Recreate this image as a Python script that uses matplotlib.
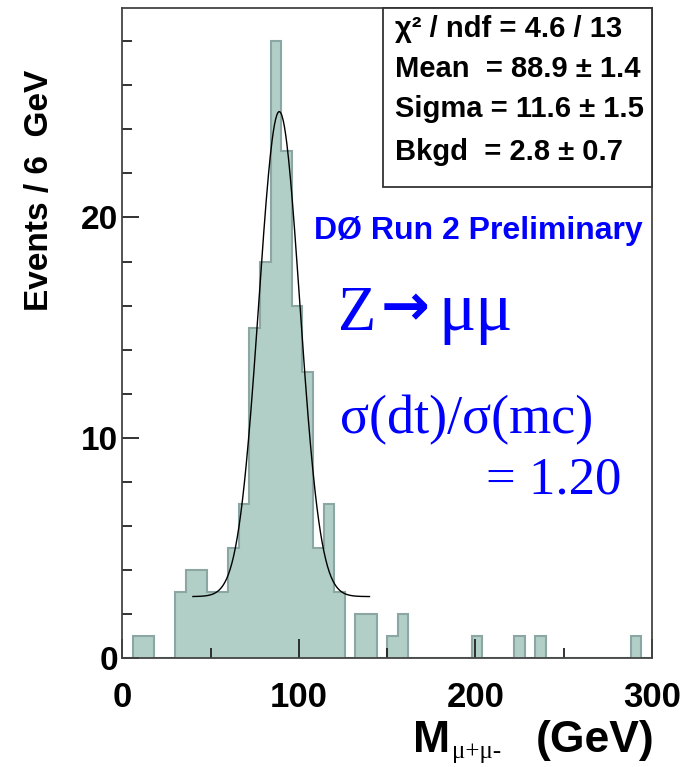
import matplotlib.pyplot as plt
import numpy as np

# histogram: 6 GeV bins from 0 to 300
edges = np.arange(0, 301, 6)
counts = [0, 1, 1, 0, 0, 3, 4, 4, 3, 3,
          5, 7, 15, 18, 28, 23, 16, 13, 5, 7,
          3, 0, 2, 2, 0, 1, 2, 0, 0, 0,
          0, 0, 0, 1, 0, 0, 0, 1, 0, 1,
          0, 0, 0, 0, 0, 0, 0, 0, 1, 0]

# fit parameters (gaussian + flat background)
fit_mean = 88.9
fit_sigma = 11.6
fit_bkgd = 2.8
fit_amp = 22.0
fit_range = (40, 140)

stat_lines = ["χ² / ndf = 4.6 / 13",
              "Mean  = 88.9 ± 1.4",
              "Sigma = 11.6 ± 1.5",
              "Bkgd  = 2.8 ± 0.7"]

W, H = 696, 767
fig = plt.figure(figsize=(W / 100, H / 100), dpi=100)


def fx(x):
    return x / W


def fy(y):
    return 1 - y / H


sans = ['Liberation Sans', 'DejaVu Sans']
serif = ['Liberation Serif', 'DejaVu Serif']

ax = fig.add_axes([fx(122.3), fy(658.3), fx(652) - fx(122.3), fy(8) - fy(658.3)])
ax.stairs(counts, edges, fill=True, facecolor='#b1cec7', edgecolor='#8ba6a3', linewidth=1.5)

xf = np.linspace(fit_range[0], fit_range[1], 300)
yf = fit_bkgd + fit_amp * np.exp(-0.5 * ((xf - fit_mean) / fit_sigma) ** 2)
ax.plot(xf, yf, color='black', lw=1.0)

ax.set_xlim(0, 300)
ax.set_ylim(0, 29.5)
ax.set_xticks([0, 100, 200, 300])
ax.set_xticks([50, 150, 250], minor=True)
ax.set_yticks([0, 10, 20])
ax.set_yticks(np.arange(0, 29, 2), minor=True)
ax.tick_params(which='both', direction='in', color='#222222', width=1.3)
ax.tick_params(axis='x', which='major', length=14, pad=16)
ax.tick_params(axis='x', which='minor', length=7)
ax.tick_params(axis='y', which='major', length=12, pad=3)
ax.tick_params(axis='y', which='minor', length=7)
for lab in ax.get_xticklabels():
    lab.set_family(sans)
    lab.set_fontweight('bold')
    lab.set_fontsize(25)
for lab in ax.get_yticklabels():
    lab.set_family(sans)
    lab.set_fontweight('bold')
    lab.set_fontsize(24)
for s in ax.spines.values():
    s.set_color('#444444')
    s.set_linewidth(1.3)

# stat box
box = plt.Rectangle((fx(383), fy(187)), fx(652) - fx(383), fy(8) - fy(187),
                    transform=fig.transFigure, facecolor='white', edgecolor='#333333',
                    lw=1.3, zorder=5)
fig.patches.append(box)
baselines = [37, 77, 117, 160]
for txt, yb in zip(stat_lines, baselines):
    fig.text(fx(395), fy(yb), txt, family=sans, fontweight='bold', fontsize=21,
             ha='left', va='baseline', zorder=6)

# labels on the plot
fig.text(fx(314), fy(239), "DØ Run 2 Preliminary", family=sans, fontweight='bold',
         fontsize=23, color='blue', va='baseline')
fig.text(fx(338), fy(330), "Z", family=serif, fontsize=45, color='blue', va='baseline')
fig.text(fx(381), fy(309), "→", family=['DejaVu Sans'], fontweight='bold', fontsize=42,
         color='blue', va='center')
fig.text(fx(438), fy(330), "μμ", family=serif, fontsize=50, color='blue', va='baseline')
fig.text(fx(340), fy(433), "σ(dt)/σ(mc)", family=serif, fontsize=39, color='blue', va='baseline')
fig.text(fx(486), fy(494), "= 1.20", family=serif, fontsize=38, color='blue', va='baseline')

# axis titles
fig.text(fx(40), fy(190), "Events / 6  GeV", family=['Liberation Sans Narrow'] + sans,
         fontweight='bold', fontsize=24, rotation=90, ha='center', va='center')
fig.text(fx(413), fy(752), "M", family=sans, fontweight='bold', fontsize=32, va='baseline')
fig.text(fx(452), fy(758), "μ+μ-", family=serif, fontsize=18, va='baseline')
fig.text(fx(654), fy(752), "(GeV)", family=sans, fontweight='bold', fontsize=32,
         va='baseline', ha='right')

fig.savefig("out.png", dpi=100)
